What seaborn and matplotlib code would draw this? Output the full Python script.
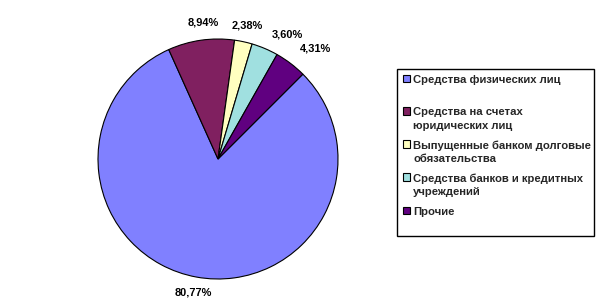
import matplotlib
matplotlib.use("Agg")
import matplotlib.pyplot as plt
import seaborn as sns
import numpy as np

categories = ["Средства физических лиц",
              "Средства на счетах юридических лиц",
              "Выпущенные банком долговые обязательства",
              "Средства банков и кредитных учреждений",
              "Прочие"]
legend_labels = ["Средства физических лиц\n ",
                 "Средства на счетах\nюридических лиц",
                 "Выпущенные банком долговые\nобязательства",
                 "Средства банков и кредитных\nучреждений",
                 "Прочие\n "]
shares = [80.77, 8.94, 2.38, 3.60, 4.31]
colors = ["#8080FF", "#802060", "#FFFFC0", "#A0E0E0", "#600080"]

# label placement styling (radius in pie radii, clockwise angle nudge in degrees)
label_radius = [1.13, 1.14, 1.14, 1.19, 1.23]
label_nudge = [0, 2, 0, 6, 4]

sns.set_style("white")
plt.rcParams["font.family"] = ["Liberation Sans", "DejaVu Sans"]

W, H = 603, 303
fig = plt.figure(figsize=(W / 100, H / 100), dpi=100)
ax = fig.add_axes([98 / W, (H - 279) / H, 240 / W, 240 / H])
wedges, _ = ax.pie(shares, colors=colors, startangle=45, counterclock=False,
                   wedgeprops=dict(edgecolor="black", linewidth=0.8))
ax.set_xlim(-1, 1)
ax.set_ylim(-1, 1)
ax.set_aspect("equal")

for w, val, r, nd in zip(wedges, shares, label_radius, label_nudge):
    th = np.deg2rad((w.theta1 + w.theta2) / 2 - nd)
    ax.text(r * np.cos(th), r * np.sin(th), f"{val:.2f}%".replace(".", ","),
            ha="center", va="center", fontsize=7.9, fontweight="bold",
            color="black", clip_on=False)

leg = fig.legend(wedges, legend_labels, loc="upper left",
                 bbox_to_anchor=(397 / W, (H - 236) / H, 197 / W, 167 / H),
                 bbox_transform=fig.transFigure, mode="expand",
                 borderaxespad=0, frameon=True, fancybox=False,
                 edgecolor="black", framealpha=1,
                 prop=dict(size=8.1, weight="bold"),
                 handlelength=0.65, handleheight=0.65, handletextpad=0.3,
                 borderpad=0.5, labelspacing=0.85)
leg.get_frame().set_linewidth(1.0)
for t in leg.get_texts():
    t.set_linespacing(1.4)
for col in leg._legend_handle_box.get_children():
    for item in col.get_children():
        item.align = "top"

fig.savefig("out.png", dpi=100)
